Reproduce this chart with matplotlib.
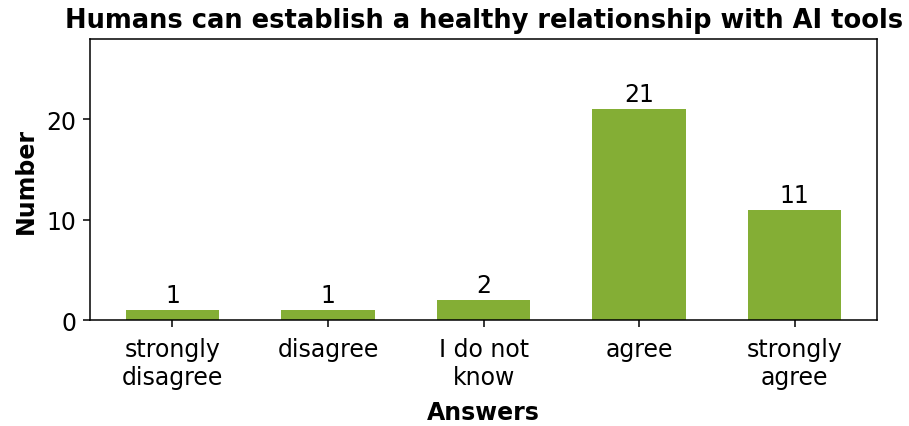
import matplotlib
matplotlib.use("Agg")
import matplotlib.pyplot as plt
from matplotlib.ticker import MultipleLocator

categories = ["strongly\ndisagree", "disagree", "I do not\nknow", "agree", "strongly\nagree"]
values = [1, 1, 2, 21, 11]

fig = plt.figure(figsize=(9.09, 4.27), dpi=100)
ax = fig.add_axes([0.099, 0.248, 0.866, 0.658])
bars = ax.bar(range(len(categories)), values, width=0.6, color="#84AE35")
ax.set_ylim(0, 28)
ax.yaxis.set_major_locator(MultipleLocator(10))
ax.set_xticks(range(len(categories)))
ax.set_xticklabels(categories, fontsize=17)
ax.tick_params(axis="y", labelsize=17)
ax.tick_params(length=5, width=1.1, pad=5)
ax.tick_params(axis="x", pad=7)
for i, v in enumerate(values):
    ax.text(i, v + 0.3, str(v), ha="center", va="bottom", fontsize=17)
ax.set_title("Humans can establish a healthy relationship with AI tools", fontsize=18.5, fontweight="bold", pad=8.5)
ax.set_xlabel("Answers", fontsize=17, fontweight="bold", labelpad=8)
ax.set_ylabel("Number", fontsize=17, fontweight="bold", labelpad=6)
for s in ax.spines.values():
    s.set_linewidth(1.1)
fig.savefig("out.png", dpi=100)
